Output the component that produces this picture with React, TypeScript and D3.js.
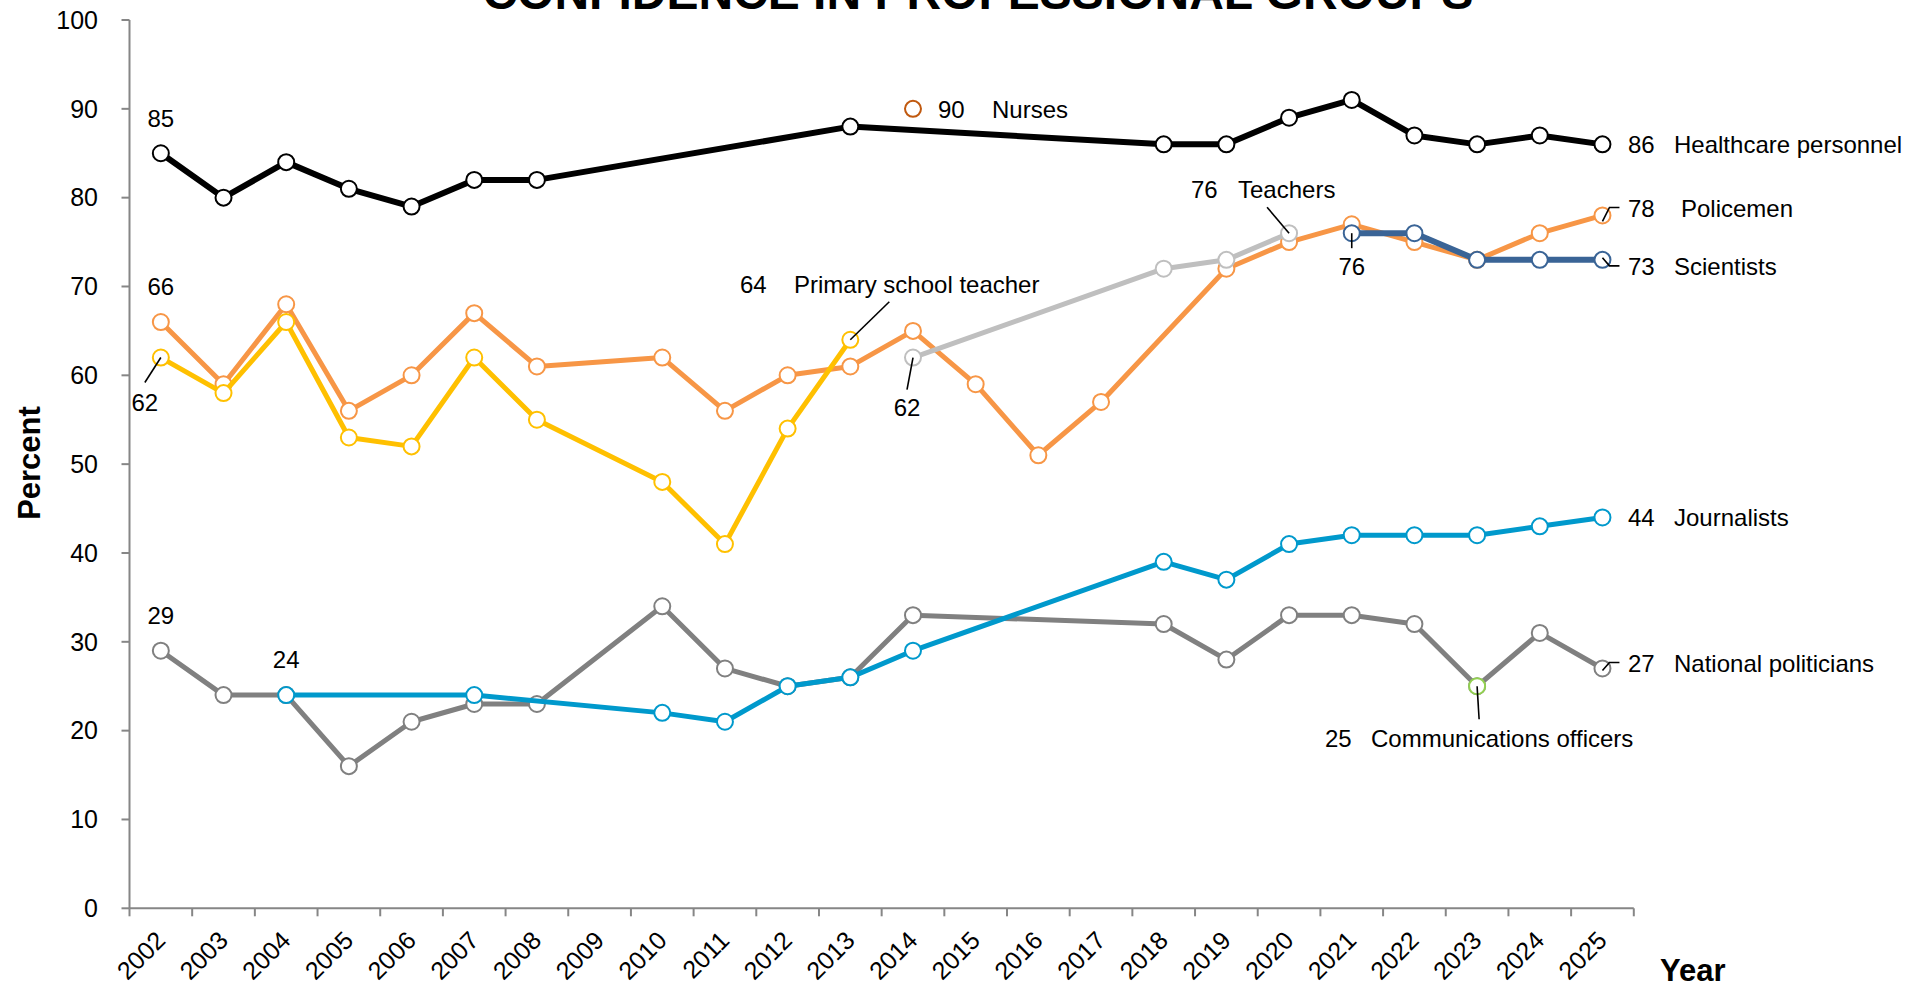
import React from "react";
import * as d3 from "d3";

const yearLabels = ["2002","2003","2004","2005","2006","2007","2008","2009","2010","2011","2012","2013","2014","2015","2016","2017","2018","2019","2020","2021","2022","2023","2024","2025"];
const yTicks = [0, 10, 20, 30, 40, 50, 60, 70, 80, 90, 100];

const healthcareYears = [2002,2003,2004,2005,2006,2007,2008,2013,2018,2019,2020,2021,2022,2023,2024,2025];
const healthcareValues = [85,80,84,81,79,82,82,88,86,86,89,91,87,86,87,86];

const policeYears = [2002,2003,2004,2005,2006,2007,2008,2010,2011,2012,2013,2014,2015,2016,2017,2019,2020,2021,2022,2023,2024,2025];
const policeValues = [66,59,68,56,60,67,61,62,56,60,61,65,59,51,57,72,75,77,75,73,76,78];

const primaryYears = [2002,2003,2004,2005,2006,2007,2008,2010,2011,2012,2013];
const primaryValues = [62,58,66,53,52,62,55,48,41,54,64];

const teacherYears = [2014,2018,2019,2020];
const teacherValues = [62,72,73,76];

const scientistYears = [2021,2022,2023,2024,2025];
const scientistValues = [76,76,73,73,73];

const journalistYears = [2004,2007,2010,2011,2012,2013,2014,2018,2019,2020,2021,2022,2023,2024,2025];
const journalistValues = [24,24,22,21,25,26,29,39,37,41,42,42,42,43,44];

const politicianYears = [2002,2003,2004,2005,2006,2007,2008,2010,2011,2012,2013,2014,2018,2019,2020,2021,2022,2023,2024,2025];
const politicianValues = [29,24,24,16,21,23,23,34,27,25,26,33,32,28,33,33,32,25,31,27];

const nurseYears = [2014];
const nurseValues = [90];

const commYears = [2023];
const commValues = [25];

type Series = { name: string; years: number[]; values: number[]; color: string; marker: string; width: number };

const series: Series[] = [
  { name: "National politicians", years: politicianYears, values: politicianValues, color: "#808080", marker: "#808080", width: 5 },
  { name: "Journalists", years: journalistYears, values: journalistValues, color: "#0099CC", marker: "#0099CC", width: 5 },
  { name: "Policemen", years: policeYears, values: policeValues, color: "#F79646", marker: "#F79646", width: 5 },
  { name: "Primary school teacher", years: primaryYears, values: primaryValues, color: "#FFC000", marker: "#FFC000", width: 5 },
  { name: "Teachers", years: teacherYears, values: teacherValues, color: "#BFBFBF", marker: "#BFBFBF", width: 5 },
  { name: "Scientists", years: scientistYears, values: scientistValues, color: "#3A6496", marker: "#3A6496", width: 6 },
  { name: "Healthcare personnel", years: healthcareYears, values: healthcareValues, color: "#000000", marker: "#000000", width: 6 },
  { name: "Nurses", years: nurseYears, values: nurseValues, color: "#C0590F", marker: "#C0590F", width: 0 },
  { name: "Communications officers", years: commYears, values: commValues, color: "#92D050", marker: "#92D050", width: 0 },
];

const W = 1921;
const H = 986;
const FONT = "'Liberation Sans', Arial, sans-serif";

export default function App() {
  const x = d3.scaleBand<string>().domain(yearLabels).range([129.5, 1633.8]).padding(0);
  const y = d3.scaleLinear().domain([0, 100]).range([908.3, 20]);
  const cx = (yr: number) => (x(String(yr)) as number) + x.bandwidth() / 2;
  const line = d3.line<[number, number]>().x((d) => cx(d[0])).y((d) => y(d[1]));
  const x0 = 129.5;
  const x1 = 1633.8;
  const y0 = y(0);

  const txt = (s: string, px: number, py: number, anchor = "start", size = 24) => (
    <text x={px} y={py} textAnchor={anchor} fontSize={size} fontFamily={FONT} fill="#000">{s}</text>
  );
  const leader = (pts: [number, number][]) => (
    <path d={d3.line()(pts) as string} fill="none" stroke="#000" strokeWidth={1.6} />
  );

  const rightNumX = 1628;
  const rightWordX = 1674;

  return (
    <svg width={W} height={H} style={{ position: "fixed", left: 0, top: 0, display: "block", background: "#fff" }}>
      <rect width={W} height={H} fill="#fff" />
      <text x={978} y={8.5} textAnchor="middle" fontSize={48} fontWeight="bold" fontFamily={FONT}>CONFIDENCE IN PROFESSIONAL GROUPS</text>

      {/* axes */}
      <line x1={x0} x2={x0} y1={y(100)} y2={y0} stroke="#868686" strokeWidth={2} />
      <line x1={x0} x2={x1} y1={y0} y2={y0} stroke="#868686" strokeWidth={2} />
      {yTicks.map((t) => (
        <g key={t}>
          <line x1={x0 - 8} x2={x0} y1={y(t)} y2={y(t)} stroke="#868686" strokeWidth={2} />
          <text x={98} y={y(t)} dy="0.35em" textAnchor="end" fontSize={25} fontFamily={FONT}>{t}</text>
        </g>
      ))}
      {yearLabels.map((yl, i) => (
        <line key={"t" + i} x1={x(yl) as number} x2={x(yl) as number} y1={y0} y2={y0 + 8} stroke="#868686" strokeWidth={2} />
      ))}
      <line x1={x1} x2={x1} y1={y0} y2={y0 + 8} stroke="#868686" strokeWidth={2} />
      {yearLabels.map((yl) => {
        const px = (x(yl) as number) + x.bandwidth() / 2 + 6;
        const py = 942;
        return (
          <text key={yl} x={px} y={py} textAnchor="end" fontSize={25} fontFamily={FONT} transform={`rotate(-45 ${px} ${py})`}>{yl}</text>
        );
      })}
      <text transform={`translate(40 463) rotate(-90)`} textAnchor="middle" fontSize={31} fontWeight="bold" fontFamily={FONT}>Percent</text>
      <text x={1660} y={981} fontSize={31} fontWeight="bold" fontFamily={FONT}>Year</text>

      {/* series */}
      {series.map((s) => {
        const pts: [number, number][] = s.years.map((yr, i) => [yr, s.values[i]]);
        return (
          <g key={s.name}>
            {s.width > 0 && <path d={line(pts) as string} fill="none" stroke={s.color} strokeWidth={s.width} strokeLinejoin="round" />}
            {pts.map((p, i) => (
              <circle key={i} cx={cx(p[0])} cy={y(p[1])} r={8} fill="#fff" stroke={s.marker} strokeWidth={2} />
            ))}
          </g>
        );
      })}

      {/* annotations */}
      {txt("85", cx(2002), y(85) - 26, "middle")}
      {txt("66", cx(2002), y(66) - 27, "middle")}
      {txt("29", cx(2002), y(29) - 27, "middle")}
      {txt("24", cx(2004), y(24) - 27, "middle")}

      {leader([[cx(2002), y(62)], [cx(2002) - 16, y(62) + 25]])}
      {txt("62", cx(2002) - 16, y(62) + 53, "middle")}

      {leader([[cx(2013), y(64)], [cx(2013) + 39, y(64) - 38]])}
      {txt("64", 740, y(64) - 47)}
      {txt("Primary school teacher", 794, y(64) - 47)}

      {leader([[cx(2014), y(62)], [cx(2014) - 6, y(62) + 32]])}
      {txt("62", cx(2014) - 6, y(62) + 58, "middle")}

      {leader([[cx(2020), y(76)], [cx(2020) - 22, y(76) - 26]])}
      {txt("76", 1191, y(76) - 35)}
      {txt("Teachers", 1238, y(76) - 35)}

      {leader([[cx(2021), y(76)], [cx(2021), y(76) + 15]])}
      {txt("76", cx(2021), y(76) + 42, "middle")}

      {txt("90", 938, y(90) + 9)}
      {txt("Nurses", 992, y(90) + 9)}

      {txt("86", rightNumX, y(86) + 8.5)}
      {txt("Healthcare personnel", rightWordX, y(86) + 8.5)}

      {leader([[cx(2025), y(78) + 6], [cx(2025) + 7, y(78) - 8], [cx(2025) + 17, y(78) - 8]])}
      {txt("78", rightNumX, y(78) + 1.5)}
      {txt("Policemen", 1681, y(78) + 1.5)}

      {leader([[cx(2025), y(73) - 2], [cx(2025) + 7, y(73) + 6], [cx(2025) + 17, y(73) + 6]])}
      {txt("73", rightNumX, y(73) + 15)}
      {txt("Scientists", rightWordX, y(73) + 15)}

      {txt("44", rightNumX, y(44) + 9)}
      {txt("Journalists", rightWordX, y(44) + 9)}

      {leader([[cx(2025), y(27) + 2], [cx(2025) + 7, y(27) - 6], [cx(2025) + 17, y(27) - 6]])}
      {txt("27", rightNumX, y(27) + 3.5)}
      {txt("National politicians", rightWordX, y(27) + 3.5)}

      {leader([[cx(2023), y(25)], [cx(2023) + 2, y(25) + 33]])}
      {txt("25", 1325, y(25) + 61)}
      {txt("Communications officers", 1371, y(25) + 61)}
    </svg>
  );
}
